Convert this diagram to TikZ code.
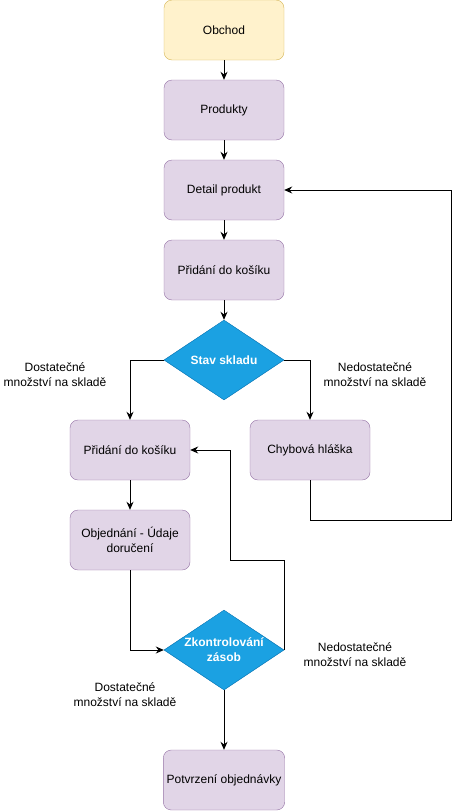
\documentclass[tikz,border=0pt]{standalone}
\usepackage{fontspec}
\setmainfont{Liberation Sans}
\usetikzlibrary{arrows.meta,shapes.geometric,calc}
\definecolor{boxfill}{HTML}{E1D5E7}
\definecolor{boxline}{HTML}{9673A6}
\definecolor{startfill}{HTML}{FFF2CC}
\definecolor{startline}{HTML}{D6B656}
\definecolor{decfill}{HTML}{1BA1E2}
\definecolor{decline}{HTML}{006EAF}
\tikzset{
  box/.style = {
    draw=boxline,
    fill=boxfill,
    rounded corners=8pt,
    minimum width=120pt,
    minimum height=60pt,
    align=center,
    font=\fontsize{12}{15}\selectfont
  },
  startbox/.style = {
    box,
    draw=startline,
    fill=startfill
  },
  decision/.style = {
    diamond,
    draw=decline,
    fill=decfill,
    aspect=1.5,
    inner sep=-2pt,
    minimum width=120pt,
    minimum height=80pt,
    align=center,
    text=white,
    font=\fontsize{12}{15}\selectfont\bfseries
  },
  note/.style = {
    align=center,
    font=\fontsize{12}{15}\selectfont
  },
  arc/.style = {
    ->,
    line width=0.9pt,
    >={Stealth[length=8pt,width=7pt]}
  }
}

\begin{document}
\begin{tikzpicture}[x=1pt,y=-1pt]
    \useasboundingbox (0,0) rectangle (459,811);

    \node[startbox] (obchod)     at (224,30)  {Obchod};
    \node[box]      (produkty)   at (224,110) {Produkty};
    \node[box]      (detail)     at (224,190) {Detail produkt};
    \node[box]      (pridani)    at (224,270) {Přidání do košíku};
    \node[decision] (stav)       at (224,360) {Stav skladu};
    \node[box]      (kosik)      at (130,450) {Přidání do košíku};
    \node[box]      (chyba)      at (310,450) {Chybová hláška};
    \node[box]      (objednani)  at (130,540) {Objednání - Údaje\\doručení};
    \node[decision] (kontrola)   at (224,650) {Zkontrolování\\zásob};
    \node[box]      (potvrzeni)  at (224,780) {Potvrzení objednávky};

    \node[note] (dostA)   at (55,375)  {Dostatečné\\množství na skladě};
    \node[note] (nedostA) at (375,375) {Nedostatečné\\množství na skladě};
    \node[note] (nedostB) at (355,655) {Nedostatečné\\množství na skladě};
    \node[note] (dostB)   at (125,695) {Dostatečné\\množství na skladě};

    \coordinate (loopR) at (451,520);
    \coordinate (backL) at (230,560);

    \draw[arc] (obchod) -- (produkty);
    \draw[arc] (produkty) -- (detail);
    \draw[arc] (detail) -- (pridani);
    \draw[arc] (pridani) -- (stav);
    \draw[arc] (stav.west) -| (kosik.north);
    \draw[arc] (stav.east) -| (chyba.north);
    \draw[arc] (chyba.south) |- (loopR) |- (detail.east);
    \draw[arc] (kosik) -- (objednani);
    \draw[arc] (objednani.south) |- (kontrola.west);
    \draw[arc] (kontrola.east) |- (backL) |- (kosik.east);
    \draw[arc] (kontrola) -- (potvrzeni);
\end{tikzpicture}
\end{document}
